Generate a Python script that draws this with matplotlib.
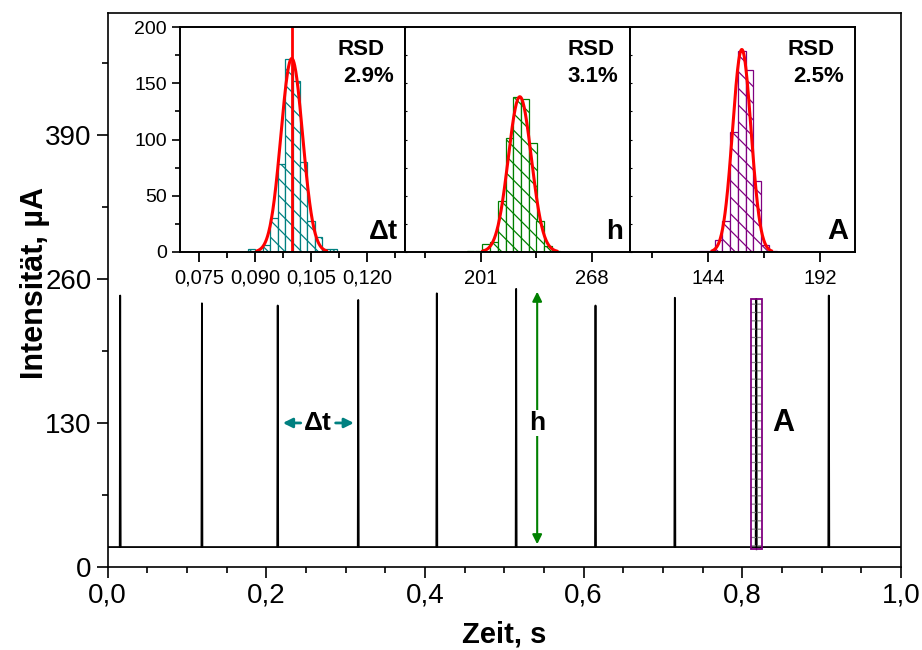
import matplotlib
matplotlib.use("Agg")
import matplotlib.pyplot as plt
from matplotlib.patches import Rectangle
from matplotlib.ticker import MultipleLocator, FixedLocator
import numpy as np

plt.rcParams['font.family'] = ['Liberation Sans', 'DejaVu Sans']
plt.rcParams['hatch.linewidth'] = 0.9

# peak train: baseline level, peak times (s) and peak heights (uA)
baseline = 18
peak_t = [0.016, 0.119, 0.2145, 0.316, 0.415, 0.515, 0.615, 0.715, 0.8175, 0.909]
peak_h = [245, 238, 236, 241, 247, 251, 236, 243, 242, 245]
area_box = (0.811, 0.825, 16, 242)   # x0, x1, y0, y1 of the integrated peak

# histograms: left bin edges, counts
dt_edges = [0.088, 0.090, 0.092, 0.094, 0.096, 0.098, 0.100, 0.102, 0.104, 0.106, 0.108, 0.110]
dt_counts = [3, 1, 6, 30, 78, 172, 152, 80, 28, 13, 3, 3]
h_edges = [192.6, 197.3, 202.0, 206.6, 211.3, 216.0, 220.6, 225.3, 230.0, 234.6, 239.3, 244.0]
h_counts = [1, 1, 7, 9, 45, 101, 138, 136, 97, 28, 5, 1]
a_edges = [140.0, 143.3, 146.7, 150.0, 153.3, 156.7, 160.0, 163.3, 166.7, 170.0]
a_counts = [1, 1, 11, 28, 107, 179, 162, 63, 6, 1]

# gauss fits: mean, RSD (%), peak height
dt_fit = (0.0998, 2.9, 172)
h_fit = (224.6, 3.1, 138)
a_fit = (158.4, 2.5, 180)

main_yticks = [0, 130, 260, 390]
main_xticks = [0.0, 0.2, 0.4, 0.6, 0.8, 1.0]


def gauss_curve(fit):
    mu, rsd, amp = fit
    sig = mu * rsd / 100.0
    x = np.linspace(mu - 3.2 * sig, mu + 3.2 * sig, 200)
    return x, amp * np.exp(-0.5 * ((x - mu) / sig) ** 2)


fig = plt.figure(figsize=(9.22, 6.5), dpi=100)
ax = fig.add_axes([107.5 / 922, 1 - 567 / 650, (901 - 107.5) / 922, 554 / 650])

# build the trace from baseline + narrow spikes
w = 0.0006
xs, ys = [0.0], [baseline]
for t, h in zip(peak_t, peak_h):
    xs += [t - w, t, t + w]
    ys += [baseline, h, baseline]
xs.append(1.0)
ys.append(baseline)
ax.plot(xs, ys, color='black', lw=1.3)

# integrated peak area
x0, x1, y0, y1 = area_box
ax.add_patch(Rectangle((x0, y0), x1 - x0, y1 - y0, facecolor='none',
                       edgecolor='#888888', hatch='--', lw=0, zorder=3))
ax.add_patch(Rectangle((x0, y0), x1 - x0, y1 - y0, facecolor='none',
                       edgecolor='#800080', lw=1.3, zorder=4))
ax.plot([peak_t[8]] * 2, [y0, y1], color='black', lw=1.0, zorder=3.5)

# delta t arrows between 3rd and 4th peak
teal = '#008080'
ax.annotate('', xy=(peak_t[2] + 0.003, 130), xytext=(0.247, 130),
            arrowprops=dict(arrowstyle='-|>', color=teal, lw=2, mutation_scale=14))
ax.annotate('', xy=(peak_t[3] - 0.002, 130), xytext=(0.284, 130),
            arrowprops=dict(arrowstyle='-|>', color=teal, lw=2, mutation_scale=14))
ax.text(0.2655, 130, '\u0394t', fontsize=19, fontweight='bold', ha='center', va='center')

# peak height arrow
ax.annotate('', xy=(0.5415, peak_h[5]), xytext=(0.5415, baseline),
            arrowprops=dict(arrowstyle='<|-|>', color='green', lw=1.5, mutation_scale=14))
ax.text(0.5415, 130, 'h', fontsize=19, fontweight='bold', ha='center', va='center',
        bbox=dict(facecolor='white', edgecolor='none', pad=1))
ax.text(0.851, 130, 'A', fontsize=22, fontweight='bold', ha='center', va='center')

ax.set_xlim(0, 1)
ax.set_ylim(0, 500)
ax.set_xticks(main_xticks)
ax.set_xticklabels([('%.1f' % v).replace('.', ',') for v in main_xticks])
ax.xaxis.set_minor_locator(MultipleLocator(0.05))
ax.set_yticks(main_yticks)
ax.yaxis.set_minor_locator(MultipleLocator(65))
ax.tick_params(which='major', direction='out', length=8, width=1.2, labelsize=20,
               right=False, top=False)
ax.tick_params(which='minor', direction='out', length=4, width=1.2, right=False, top=False)
for s in ax.spines.values():
    s.set_linewidth(1.2)
ax.set_xlabel('Zeit, s', fontsize=21, fontweight='bold', labelpad=8)
ax.set_ylabel('Intensit\u00e4t, \u00b5A', fontsize=22, fontweight='bold')
ax.yaxis.set_label_coords(-0.073, 0.513)

# inset histograms
panels = [
    (dt_edges, dt_counts, 0.002, dt_fit, teal, (0.0699, 0.1301),
     [0.075, 0.090, 0.105, 0.120], 0.0075, '\u0394t', (0.698, 0.724)),
    (h_edges, h_counts, 4.67, h_fit, 'green', (155.4, 291.0),
     [201, 268], 33.5, 'h', (0.72, 0.72)),
    (a_edges, a_counts, 3.33, a_fit, '#800080', (110.4, 207.0),
     [144, 192], 24, 'A', (0.702, 0.724)),
]
px_left = [180, 405, 630]
for i, (edges, counts, bw, fit, col, xlim, xt, xminor, tag, rsd_x) in enumerate(panels):
    ia = fig.add_axes([px_left[i] / 922, 1 - 252 / 650, 225 / 922, 225 / 650])
    ia.bar(edges, counts, width=bw, align='edge', facecolor='white',
           edgecolor=col, hatch='\\\\', lw=0.9)
    gx, gy = gauss_curve(fit)
    ia.plot(gx, gy, color='red', lw=2.2)
    if i == 0:
        ia.axvline(0.0999, color='red', lw=2)
    ia.set_xlim(*xlim)
    ia.set_ylim(0, 200)
    ia.set_xticks(xt)
    if i == 0:
        ia.set_xticklabels([('%.3f' % v).replace('.', ',') for v in xt])
    ia.xaxis.set_minor_locator(FixedLocator(
        [v for v in np.arange(xt[0] - xminor, xlim[1], xminor) if xlim[0] < v < xlim[1]]))
    ia.set_yticks([0, 50, 100, 150, 200])
    ia.yaxis.set_minor_locator(MultipleLocator(25))
    ia.tick_params(axis='x', which='major', direction='out', length=7, width=1.3,
                   labelsize=14.5, pad=5)
    ia.tick_params(axis='x', which='minor', direction='out', length=4, width=1.3)
    if i == 0:
        ia.tick_params(axis='y', which='major', direction='out', length=6, width=1.2,
                       labelsize=14)
        ia.tick_params(axis='y', which='minor', direction='out', length=3.5, width=1.2)
    else:
        ia.tick_params(axis='y', which='both', direction='in', length=1.5, width=0.8,
                       labelleft=False)
    for s in ia.spines.values():
        s.set_linewidth(1.4)
    ia.text(rsd_x[0], 0.90, 'RSD', transform=ia.transAxes, fontsize=16,
            fontweight='bold', ha='left', va='center')
    ia.text(rsd_x[1], 0.78, '%.1f%%' % fit[1], transform=ia.transAxes, fontsize=16,
            fontweight='bold', ha='left', va='center')
    ia.text(0.97, 0.03, tag, transform=ia.transAxes, fontsize=21 if tag == 'A' else 20,
            fontweight='bold', ha='right', va='bottom')

fig.savefig('out.png', dpi=100)
